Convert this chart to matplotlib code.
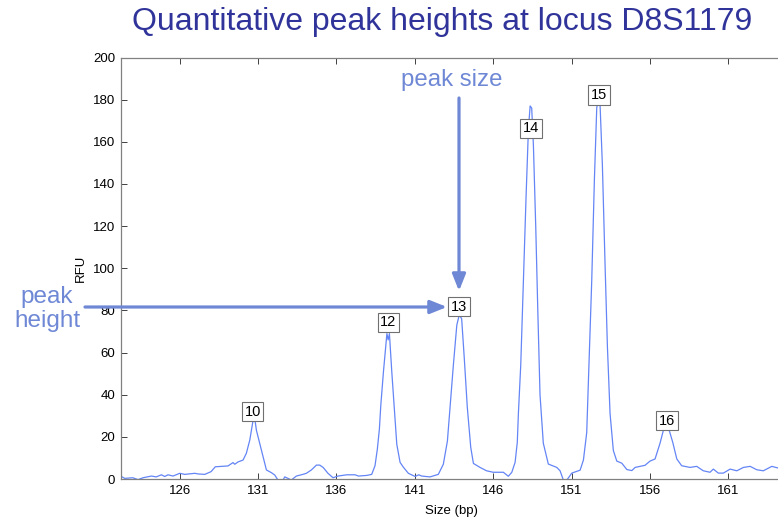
#!/usr/bin/env python3
"""Electropherogram of locus D8S1179 with peak labels and annotation arrows."""

import matplotlib

matplotlib.use("Agg")
import matplotlib.pyplot as plt

plt.rcParams["font.family"] = ["Liberation Sans", "DejaVu Sans"]

# --- trace (size in bp, signal in RFU) --------------------------------------
SIZE_BP = [
    122.23, 122.49, 123.00, 123.34, 123.66, 124.19, 124.50, 124.83, 125.04,
    125.25, 125.57, 126.00, 126.32, 126.96, 127.17, 127.60, 128.00, 128.27,
    129.08, 129.40, 129.51, 129.72, 130.04, 130.25, 130.47, 130.66, 130.74,
    130.82, 130.89, 131.21, 131.53, 131.85, 132.06, 132.27, 132.59, 132.70,
    132.91, 133.12, 133.44, 133.76, 134.08, 134.40, 134.72, 134.93, 135.15,
    135.46, 135.78, 136.10, 136.66, 137.19, 137.40, 137.93, 138.25, 138.46,
    138.61, 138.74, 138.83, 139.00, 139.15, 139.22, 139.30, 139.38, 139.53,
    139.68, 139.85, 140.06, 140.27, 140.59, 141.02, 141.25, 141.44, 141.97,
    142.50, 142.82, 143.08, 143.25, 143.46, 143.68, 143.84, 143.99, 144.16,
    144.35, 144.57, 144.74, 145.16, 145.58, 146.00, 146.65, 146.97, 147.19,
    147.40, 147.54, 147.61, 147.76, 147.93, 148.10, 148.25, 148.36, 148.46,
    148.57, 148.72, 148.85, 148.99, 149.20, 149.52, 150.06, 150.27, 150.48,
    150.70, 151.02, 151.55, 151.76, 151.97, 152.08, 152.29, 152.46, 152.61,
    152.71, 152.82, 152.97, 153.14, 153.29, 153.46, 153.67, 153.89, 154.21,
    154.53, 154.85, 155.06, 155.69, 156.01, 156.33, 156.65, 156.91, 157.18,
    157.46, 157.72, 158.03, 158.56, 158.99, 159.41, 159.84, 160.05, 160.37,
    160.69, 161.12, 161.55, 161.97, 162.40, 162.82, 163.24, 163.78, 164.45,
]
RFU = [
    1.4, 0.3, 0.6, -0.3, 0.6, 1.4, 1.0, 2.0, 1.2,
    2.0, 1.4, 2.7, 2.2, 2.7, 2.4, 2.2, 3.5, 5.8,
    6.2, 7.8, 7.0, 8.1, 9.0, 12.2, 18.5, 27.0, 28.0,
    27.0, 23.2, 13.8, 4.3, 3.0, 1.9, -0.5, -0.5, 1.0,
    0.3, -0.5, 1.4, 2.0, 2.7, 4.3, 6.6, 6.6, 5.5,
    2.7, 0.6, 1.4, 2.0, 2.0, 1.4, 1.7, 2.2, 6.3,
    14.2, 23.7, 35.0, 51.0, 63.0, 69.0, 66.0, 69.0, 51.0,
    35.0, 16.5, 7.9, 5.6, 2.7, 1.2, 2.0, 1.4, 1.0,
    2.2, 7.0, 18.0, 34.0, 54.0, 73.0, 78.0, 76.0, 57.0,
    34.0, 15.0, 7.4, 5.5, 3.9, 3.2, 3.2, 1.3, 3.2,
    7.9, 17.4, 31.0, 54.0, 94.0, 134.0, 166.0, 177.0, 176.0,
    158.0, 119.0, 79.6, 40.0, 17.0, 7.1, 5.5, 3.9, -0.5,
    -0.5, 2.8, 4.2, 9.0, 22.0, 47.0, 94.0, 142.0, 176.0,
    181.0, 178.0, 149.0, 102.0, 63.0, 31.0, 13.5, 8.5, 7.5,
    4.5, 4.0, 5.5, 6.5, 8.5, 9.5, 17.0, 24.5, 24.5,
    17.4, 9.5, 6.3, 5.5, 6.0, 3.9, 3.2, 4.7, 2.8,
    2.8, 4.7, 3.9, 5.5, 6.0, 4.4, 3.9, 6.0, 4.7,
]

# --- allele call boxes ------------------------------------------------------
ALLELES = ["10", "12", "13", "14", "15", "16"]
ALLELE_X = [130.65, 139.31, 143.82, 148.40, 152.76, 157.08]
ALLELE_Y = [31.9, 74.4, 81.8, 166.4, 182.2, 27.7]

X_TICKS = [126, 131, 136, 141, 146, 151, 156, 161]
Y_TICKS = [0, 20, 40, 60, 80, 100, 120, 140, 160, 180, 200]

TRACE_COLOR = "#6485f5"
NOTE_COLOR = "#6f88d6"
TITLE_COLOR = "#30349a"


def main():
    fig = plt.figure(figsize=(7.78, 5.21), dpi=100)
    # axes run a little past the right edge, as in the cropped slide
    ax = fig.add_axes([0.1551, 0.0806, 0.8500, 0.8090])

    ax.plot(SIZE_BP, RFU, color=TRACE_COLOR, lw=0.9, zorder=2)
    ax.set_xlim(122.23, 164.43)
    ax.set_ylim(0, 200)

    for lab, x, y in zip(ALLELES, ALLELE_X, ALLELE_Y):
        ax.text(x, y, lab, ha="center", va="center", fontsize=10.5, zorder=4,
                bbox=dict(boxstyle="square,pad=0.18", fc="white",
                          ec="#707070", lw=0.8))

    ax.set_xticks(X_TICKS)
    ax.set_yticks(Y_TICKS)
    ax.tick_params(direction="in", length=4, width=0.7, labelsize=9.5,
                   top=True, right=False, color="#404040", pad=4)
    for sp in ax.spines.values():
        sp.set_color("#808080")
        sp.set_linewidth(0.9)
    ax.set_xlabel("Size (bp)", fontsize=9.5, labelpad=6)
    ax.set_ylabel("RFU", fontsize=9.5, labelpad=4)

    fig.text(0.568, 0.958, "Quantitative peak heights at locus D8S1179",
             ha="center", va="center", fontsize=23, color=TITLE_COLOR)

    # --- annotation arrows (figure pixel coords) ---
    arrow = dict(arrowstyle="-|>,head_length=0.5,head_width=0.2",
                 lw=2.3, color=NOTE_COLOR, shrinkA=0, shrinkB=0,
                 mutation_scale=20)
    ax.annotate("", xy=(459, 521 - 291), xytext=(459, 521 - 98),
                xycoords="figure pixels", arrowprops=arrow)
    ax.annotate("", xy=(447, 521 - 307), xytext=(85, 521 - 307),
                xycoords="figure pixels", arrowprops=arrow,
                annotation_clip=False)

    fig.text(452 / 778, 1 - 80 / 521, "peak size", ha="center", va="center",
             fontsize=17.3, color=NOTE_COLOR)
    fig.text(47 / 778, 1 - 309 / 521, "peak\nheight", ha="center",
             va="center", fontsize=17.5, color=NOTE_COLOR, linespacing=1.1)

    fig.savefig("out.png", dpi=100)
    plt.close(fig)


if __name__ == "__main__":
    main()
